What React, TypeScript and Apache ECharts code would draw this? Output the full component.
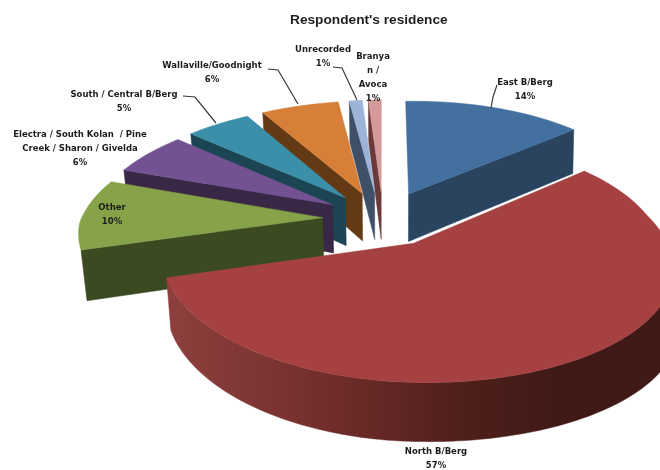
import React, { useEffect, useRef } from "react";
import * as echarts from "echarts";

const categories = [
  "East B/Berg",
  "North B/Berg",
  "Other",
  "Electra / South Kolan  / Pine Creek / Sharon / Givelda",
  "South / Central B/Berg",
  "Wallaville/Goodnight",
  "Unrecorded",
  "Branyan / Avoca",
];
const values = [14, 57, 10, 6, 5, 6, 1, 1];
const topColors = ["#44709f", "#a54241", "#86a34a", "#735291", "#3b8fa9", "#d57f39", "#9db3d8", "#d49a9a"];
const wallColors = ["#2a4460", "#5a2422", "#3b4a20", "#382845", "#1b4552", "#633a14", "#3f4f68", "#6a3a3a"];
const labelTexts = [
  "East B/Berg\n14%",
  "North B/Berg\n57%",
  "Other\n10%",
  "Electra / South Kolan  / Pine\nCreek / Sharon / Givelda\n6%",
  "South / Central B/Berg\n5%",
  "Wallaville/Goodnight\n6%",
  "Unrecorded\n1%",
  "Branya\nn /\nAvoca\n1%",
];
// label centres and leader lines, in page pixels
const labelCentres = [
  [525, 89], [436, 458], [112, 214], [80, 148], [124, 101], [212, 72], [323, 56], [373, 77],
];
const leaders: number[][][] = [
  [[497, 85], [493, 97], [491, 108]],
  [],
  [],
  [],
  [[183, 96], [195, 97], [216, 123]],
  [[268, 69], [278, 70], [298, 104]],
  [[333, 67], [342, 68], [357, 100]],
  [],
];
const drawOrder = [7, 6, 5, 4, 3, 2, 0, 1];
const shiftX = [2, 0, 0, 0, -1, -2, -2, 1];

const CX = 382, CY = 218.5, A = 243, B = 112, P = 0.14, EXPLODE = 0.245, DEPTH = 49;
const BOTTOM_SCALE_LEFT = 0.98, BOTTOM_SCALE_RIGHT = 0.995, FRONT_SKEW = 16, TILT = 0.015;
const BULGE_TOP = 6, BULGE_BOTTOM = 20;
const total = values.reduce((a, b) => a + b, 0);
const starts: number[] = [];
values.reduce((acc, v, i) => { starts[i] = acc; return acc + v; }, 0);

function project(u: number, v: number, bottom: boolean, dx: number): number[] {
  const s = 1 / (1 - P * v);
  const bulge = Math.max(0, v) * Math.max(0, u);
  let x = CX + A * u * s + Math.max(0, v) * FRONT_SKEW + dx + bulge * (bottom ? BULGE_BOTTOM : BULGE_TOP);
  let y = CY + B * v * s - TILT * A * u * s;
  if (bottom) {
    x = CX + (x - CX) * (x < CX ? BOTTOM_SCALE_LEFT : BOTTOM_SCALE_RIGHT);
    y += DEPTH * s;
  }
  return [x, y];
}

function renderSlice(params: any) {
  const i = drawOrder[params.dataIndex];
  const a0 = (starts[i] / total) * 2 * Math.PI;
  const a1 = ((starts[i] + values[i]) / total) * 2 * Math.PI;
  const mid = (a0 + a1) / 2;
  const ox = EXPLODE * Math.sin(mid);
  const oy = -EXPLODE * Math.cos(mid);
  const at = (a: number, r: number, bottom: boolean) =>
    project(ox + r * Math.sin(a), oy - r * Math.cos(a), bottom, shiftX[i]);
  const steps = Math.max(3, Math.ceil((a1 - a0) / 0.03));
  const arc = (from: number, to: number, bottom: boolean) => {
    const pts: number[][] = [];
    for (let k = 0; k <= steps; k++) pts.push(at(from + ((to - from) * k) / steps, 1, bottom));
    return pts;
  };
  const children: any[] = [];
  const wallStyle = { fill: wallColors[i], stroke: wallColors[i], lineWidth: 0.5 };
  const wall = (a: number) => ({
    type: "polygon",
    shape: { points: [at(a, 0, false), at(a, 1, false), at(a, 1, true), at(a, 0, true)] },
    style: wallStyle,
  });
  if (Math.sin(a0) < 0) children.push(wall(a0));
  if (Math.sin(a1) > 0) children.push(wall(a1));
  if (a0 < Math.PI && a1 > Math.PI) {
    // only the slice that spans the front of the pie shows its outer rim
    const r0 = Math.max(a0, Math.PI * 0.55);
    const r1 = Math.min(a1, Math.PI * 1.6);
    const fill = new echarts.graphic.LinearGradient(165, 0, 660, 0, [
      { offset: 0, color: "#8e403e" },
      { offset: 0.3, color: "#742f2d" },
      { offset: 0.6, color: "#4f1f1b" },
      { offset: 0.8, color: "#401915" },
      { offset: 1, color: "#3f1a17" },
    ], true);
    children.push({
      type: "polygon",
      shape: { points: [...arc(r0, r1, false), ...arc(r1, r0, true)] },
      style: { fill, stroke: fill, lineWidth: 0.5 },
    });
  }
  children.push({
    type: "polygon",
    shape: { points: [at(a0, 0, false), ...arc(a0, a1, false)] },
    style: { fill: topColors[i], stroke: topColors[i], lineWidth: 0.5 },
  });
  return { type: "group", children };
}

export default function App() {
  const ref = useRef<HTMLDivElement>(null);
  useEffect(() => {
    const chart = echarts.init(ref.current!, undefined, { renderer: "svg" });
    const font = "DejaVu Sans";
    chart.setOption({
      animation: false,
      backgroundColor: "#ffffff",
      title: {
        text: "Respondent's residence",
        left: 285,
        top: 7,
        textStyle: { fontFamily: "Liberation Sans", fontSize: 13.7, fontWeight: "bold", color: "#1f1f1f" },
      },
      series: [
        {
          type: "custom",
          coordinateSystem: "none",
          data: drawOrder.map((i) => ({ name: categories[i], value: values[i] })),
          renderItem: renderSlice,
          silent: true,
        },
      ],
      graphic: [
        ...leaders
          .filter((l) => l.length > 0)
          .map((points) => ({
            type: "polyline",
            z: 20,
            shape: { points },
            style: { stroke: "#3a3a3a", lineWidth: 1.2, fill: "none" },
          })),
        ...labelTexts.map((text, i) => ({
          type: "text",
          z: 30,
          x: labelCentres[i][0],
          y: labelCentres[i][1],
          style: {
            text,
            fontFamily: font,
            fontSize: 8.5,
            fontWeight: "bold",
            lineHeight: 14,
            fill: "#1c1c1c",
            align: "center",
            verticalAlign: "middle",
          },
        })),
      ],
    });
    return () => chart.dispose();
  }, []);
  return (
    <div
      ref={ref}
      style={{ position: "absolute", left: 0, top: 0, width: 660, height: 470, filter: "blur(0.6px)" }}
    />
  );
}
